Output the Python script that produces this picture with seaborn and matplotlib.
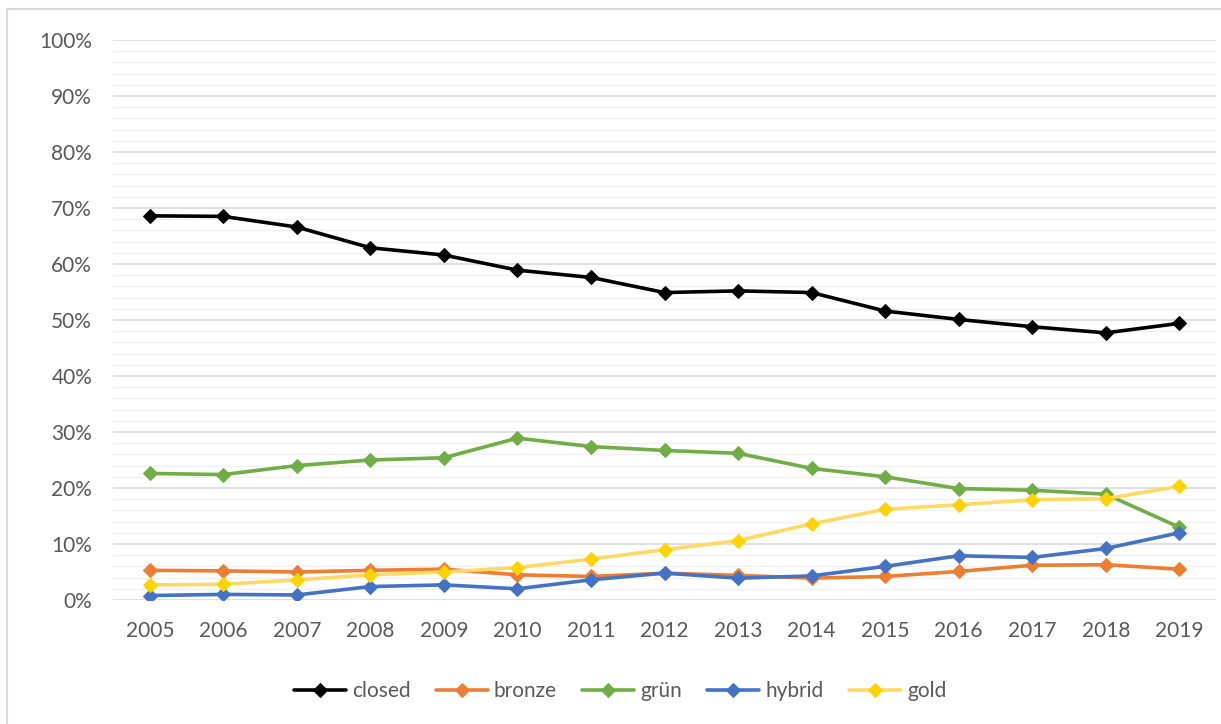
import matplotlib
matplotlib.use("Agg")
import matplotlib.pyplot as plt
import matplotlib.patches as mpatches
from matplotlib.ticker import MultipleLocator, PercentFormatter
import seaborn as sns
import pandas as pd

# Share of publications per access type (percent)
years = [2005, 2006, 2007, 2008, 2009, 2010, 2011, 2012, 2013, 2014,
         2015, 2016, 2017, 2018, 2019]
closed = [68.6, 68.5, 66.6, 62.9, 61.6, 58.9, 57.6, 54.9, 55.2, 54.9,
          51.6, 50.1, 48.8, 47.7, 49.4]
bronze = [5.3, 5.2, 5.0, 5.3, 5.5, 4.5, 4.2, 4.8, 4.4, 3.9,
          4.2, 5.1, 6.2, 6.3, 5.5]
gruen = [22.6, 22.4, 24.0, 25.0, 25.4, 28.9, 27.4, 26.7, 26.2, 23.5,
         22.0, 19.9, 19.6, 18.9, 13.0]
hybrid = [0.8, 1.0, 0.9, 2.4, 2.7, 2.0, 3.6, 4.8, 3.9, 4.3,
          6.0, 7.9, 7.6, 9.2, 12.0]
gold = [2.7, 2.8, 3.6, 4.5, 5.0, 5.8, 7.3, 9.0, 10.6, 13.6,
        16.2, 17.0, 17.9, 18.1, 20.3]

series_names = ["closed", "bronze", "grün", "hybrid", "gold"]
series_values = [closed, bronze, gruen, hybrid, gold]
line_colors = ["#000000", "#ED7D31", "#70AD47", "#4472C4", "#FFD966"]
marker_colors = ["#000000", "#ED7D31", "#70AD47", "#4472C4", "#FFD200"]

df = pd.DataFrame({
    "Jahr": [str(y) for _ in series_names for y in years],
    "Anteil": [v for vals in series_values for v in vals],
    "Typ": [n for n in series_names for _ in years],
})

sns.set_theme(style="white")
plt.rcParams["font.family"] = ["Lato", "DejaVu Sans"]
text_color = "#595959"

fig = plt.figure(figsize=(12.21, 7.24), dpi=100)
ax = fig.add_axes([113 / 1221, 1 - 600 / 724, (1216 - 113) / 1221, 560 / 724])

# chart frame
fig.patches.append(mpatches.Rectangle((7 / 1221, -0.01), 1.02, 1 - 9 / 724 + 0.01,
                                      transform=fig.transFigure, fill=False,
                                      edgecolor="#D9D9D9", linewidth=1.5))

for name, lc, mc in zip(series_names, line_colors, marker_colors):
    sub = df[df["Typ"] == name]
    sns.lineplot(data=sub, x="Jahr", y="Anteil", ax=ax, color=lc,
                 linewidth=2.6, marker="D", markersize=8.5,
                 markerfacecolor=mc, markeredgecolor=mc, sort=False,
                 label=name, legend=False)

ax.set_ylim(0, 100)
ax.set_xlim(-0.5, len(years) - 0.5)
ax.yaxis.set_major_locator(MultipleLocator(10))
ax.yaxis.set_minor_locator(MultipleLocator(2))
ax.yaxis.set_major_formatter(PercentFormatter(decimals=0))
ax.grid(which="major", axis="y", color="#D9D9D9", linewidth=1.2)
ax.grid(which="minor", axis="y", color="#F0F0F0", linewidth=1.0)
ax.grid(axis="x", visible=False)
ax.set_axisbelow(True)
for s in ax.spines.values():
    s.set_visible(False)
ax.tick_params(axis="both", which="both", length=0, labelsize=15,
               labelcolor=text_color)
ax.tick_params(axis="y", pad=15)
ax.tick_params(axis="x", pad=15)
ax.set_xlabel("")
ax.set_ylabel("")

handles, labels = ax.get_legend_handles_labels()
for h in handles:
    h.set_markersize(7)
fig.legend(handles, labels, loc="center", bbox_to_anchor=(620 / 1221, 1 - 691 / 724),
           ncol=5, frameon=False, fontsize=15, handlelength=2.5,
           handletextpad=0.3, columnspacing=1.2, labelcolor=text_color)

fig.savefig("out.png", dpi=100)
